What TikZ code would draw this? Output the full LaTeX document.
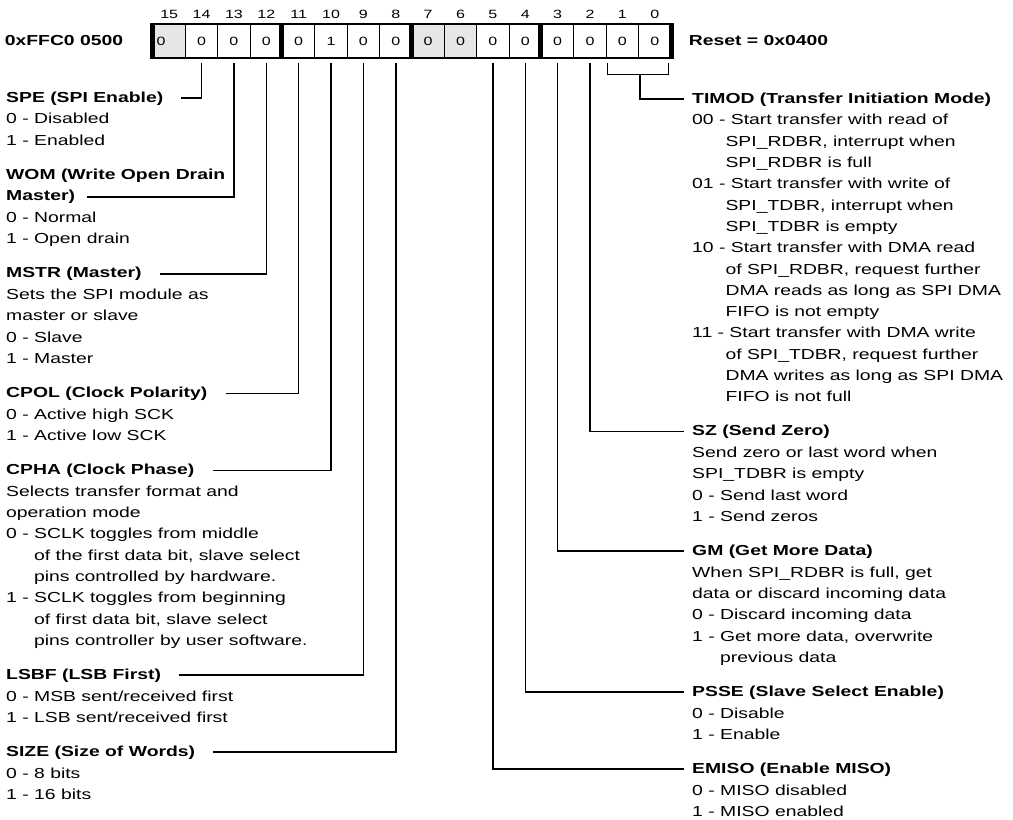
\documentclass[tikz,border=0pt]{standalone}
\usepackage{fontspec}
\setmainfont{Liberation Sans}[FakeStretch=1.335]
\usepackage{tikz}
\usetikzlibrary{positioning}
\definecolor{resvgray}{RGB}{230,230,230}
\newcommand{\regfont}{\fontsize{14.5}{21.3}\selectfont}
\newcommand{\bitfont}{\fontsize{12}{14}\selectfont}
\newcommand{\ind}{\phantom{0 - }}
\newcommand{\indd}{\phantom{00 -}}

\begin{document}
\begin{tikzpicture}[
    x=1pt, y=-1pt,
    node distance=12.3pt,
    font=\regfont,
    cell/.style={draw, line width=1.2pt, fill=#1, minimum width=32.375pt,
                 minimum height=34pt, inner sep=0pt, font=\bitfont},
    cell/.default=white,
    bitnum/.style={font=\bitfont, inner sep=0pt},
    sep/.style={line width=5pt},
    wire/.style={line width=1.6pt},
    ttl/.style={font=\regfont\bfseries, inner sep=0pt, text height=14.91pt, text depth=6.39pt},
    body/.style={align=left, inner sep=0pt},
]
    \useasboundingbox (0,0) rectangle (1013,820);

    % Register cells
    \foreach \b/\v/\f in {15//resvgray, 14/0/white, 13/0/white, 12/0/white,
                          11/0/white, 10/1/white, 9/0/white, 8/0/white,
                          7/0/resvgray, 6/0/resvgray, 5/0/white, 4/0/white,
                          3/0/white, 2/0/white, 1/0/white, 0/0/white} {
        \node[cell=\f] (b\b) at ({169.19+(15-\b)*32.375},41) {\v};
        \node[bitnum, above=5pt of b\b.north] {\b};
    }
    \node[bitnum, right=4pt of b15.west, anchor=west] (b15v) {0};
    \foreach \s in {b15.north west, b11.north west, b7.north west, b3.north west, b0.north east}
        \draw[sep] (\s) -- ++(0,36);

    \node[font=\regfont\bfseries, inner sep=0pt, left=29pt of b15] (addr) {0xFFC0 0500};
    \node[font=\regfont\bfseries, inner sep=0pt, right=17pt of b0] (reset) {Reset = 0x0400};

    % Left column
    \node[ttl, anchor=west] (spe) at (6,98) {SPE (SPI Enable)};
    \node[body, below=0pt of spe.south west, anchor=north west] (spebody) {\strut 0 - Disabled\\1 - Enabled\strut};
    \node[ttl, below=of spebody.south west, anchor=north west] (wom0) {WOM (Write Open Drain};
    \node[ttl, below=0pt of wom0.south west, anchor=north west] (wom) {Master)};
    \node[body, below=0pt of wom.south west, anchor=north west] (wombody) {\strut 0 - Normal\\1 - Open drain\strut};
    \node[ttl, below=of wombody.south west, anchor=north west] (mstr) {MSTR (Master)};
    \node[body, below=0pt of mstr.south west, anchor=north west] (mstrbody) {%
        \strut Sets the SPI module as\\master or slave\\0 - Slave\\1 - Master\strut};
    \node[ttl, below=of mstrbody.south west, anchor=north west] (cpol) {CPOL (Clock Polarity)};
    \node[body, below=0pt of cpol.south west, anchor=north west] (cpolbody) {%
        \strut 0 - Active high SCK\\1 - Active low SCK\strut};
    \node[ttl, below=of cpolbody.south west, anchor=north west] (cpha) {CPHA (Clock Phase)};
    \node[body, below=0pt of cpha.south west, anchor=north west] (cphabody) {%
        \strut Selects transfer format and\\operation mode\\
        0 - SCLK toggles from middle\\
        \ind of the first data bit, slave select\\
        \ind pins controlled by hardware.\\
        1 - SCLK toggles from beginning\\
        \ind of first data bit, slave select\\
        \ind pins controller by user software.\strut};
    \node[ttl, below=of cphabody.south west, anchor=north west] (lsbf) {LSBF (LSB First)};
    \node[body, below=0pt of lsbf.south west, anchor=north west] (lsbfbody) {%
        \strut 0 - MSB sent/received first\\1 - LSB sent/received first\strut};
    \node[ttl, below=of lsbfbody.south west, anchor=north west] (size) {SIZE (Size of Words)};
    \node[body, below=0pt of size.south west, anchor=north west] (sizebody) {\strut 0 - 8 bits\\1 - 16 bits\strut};

    % Right column
    \node[ttl, anchor=west] (timod) at (692,99) {TIMOD (Transfer Initiation Mode)};
    \node[body, below=0pt of timod.south west, anchor=north west] (timodbody) {%
        \strut 00 - Start transfer with read of\\
        \indd SPI\_RDBR, interrupt when\\
        \indd SPI\_RDBR is full\\
        01 - Start transfer with write of\\
        \indd SPI\_TDBR, interrupt when\\
        \indd SPI\_TDBR is empty\\
        10 - Start transfer with DMA read\\
        \indd of SPI\_RDBR, request further\\
        \indd DMA reads as long as SPI DMA\\
        \indd FIFO is not empty\\
        11 - Start transfer with DMA write\\
        \indd of SPI\_TDBR, request further\\
        \indd DMA writes as long as SPI DMA\\
        \indd FIFO is not full\strut};
    \node[ttl, below=of timodbody.south west, anchor=north west] (sz) {SZ (Send Zero)};
    \node[body, below=0pt of sz.south west, anchor=north west] (szbody) {%
        \strut Send zero or last word when\\SPI\_TDBR is empty\\0 - Send last word\\1 - Send zeros\strut};
    \node[ttl, below=of szbody.south west, anchor=north west] (gm) {GM (Get More Data)};
    \node[body, below=0pt of gm.south west, anchor=north west] (gmbody) {%
        \strut When SPI\_RDBR is full, get\\data or discard incoming data\\
        0 - Discard incoming data\\1 - Get more data, overwrite\\\ind previous data\strut};
    \node[ttl, below=of gmbody.south west, anchor=north west] (psse) {PSSE (Slave Select Enable)};
    \node[body, below=0pt of psse.south west, anchor=north west] (pssebody) {\strut 0 - Disable\\1 - Enable\strut};
    \node[ttl, below=of pssebody.south west, anchor=north west] (emiso) {EMISO (Enable MISO)};
    \node[body, below=0pt of emiso.south west, anchor=north west] (emisobody) {%
        \strut 0 - MISO disabled\\1 - MISO enabled\strut};

    % Bit leaders, left
    \draw[wire] ([yshift=-4pt]b14.south) |- ([xshift=18pt]spe.east);
    \draw[wire] ([yshift=-4pt]b13.south) |- ([xshift=12pt]wom.east);
    \draw[wire] ([yshift=-4pt]b12.south) |- ([xshift=18pt]mstr.east);
    \draw[wire] ([yshift=-4pt]b11.south) |- ([xshift=18pt]cpol.east);
    \draw[wire] ([yshift=-4pt]b10.south) |- ([xshift=18pt]cpha.east);
    \draw[wire] ([yshift=-4pt]b9.south) |- ([xshift=18pt]lsbf.east);
    \draw[wire] ([yshift=-4pt]b8.south) |- ([xshift=18pt]size.east);

    % Bit leaders, right
    \draw[wire] ([xshift=2pt,yshift=-4pt]b1.south west) |- ([xshift=-3pt,yshift=-16pt]b0.south east)
        -- ([xshift=-3pt,yshift=-4pt]b0.south east);
    \coordinate (brk) at ([xshift=2pt,yshift=-16pt]b0.south west);
    \draw[wire] (brk) |- ([xshift=-8pt]timod.west);
    \draw[wire] ([yshift=-4pt]b2.south) |- ([xshift=-8pt]sz.west);
    \draw[wire] ([yshift=-4pt]b3.south) |- ([xshift=-8pt]gm.west);
    \draw[wire] ([yshift=-4pt]b4.south) |- ([xshift=-8pt]psse.west);
    \draw[wire] ([yshift=-4pt]b5.south) |- ([xshift=-8pt]emiso.west);
\end{tikzpicture}
\end{document}
